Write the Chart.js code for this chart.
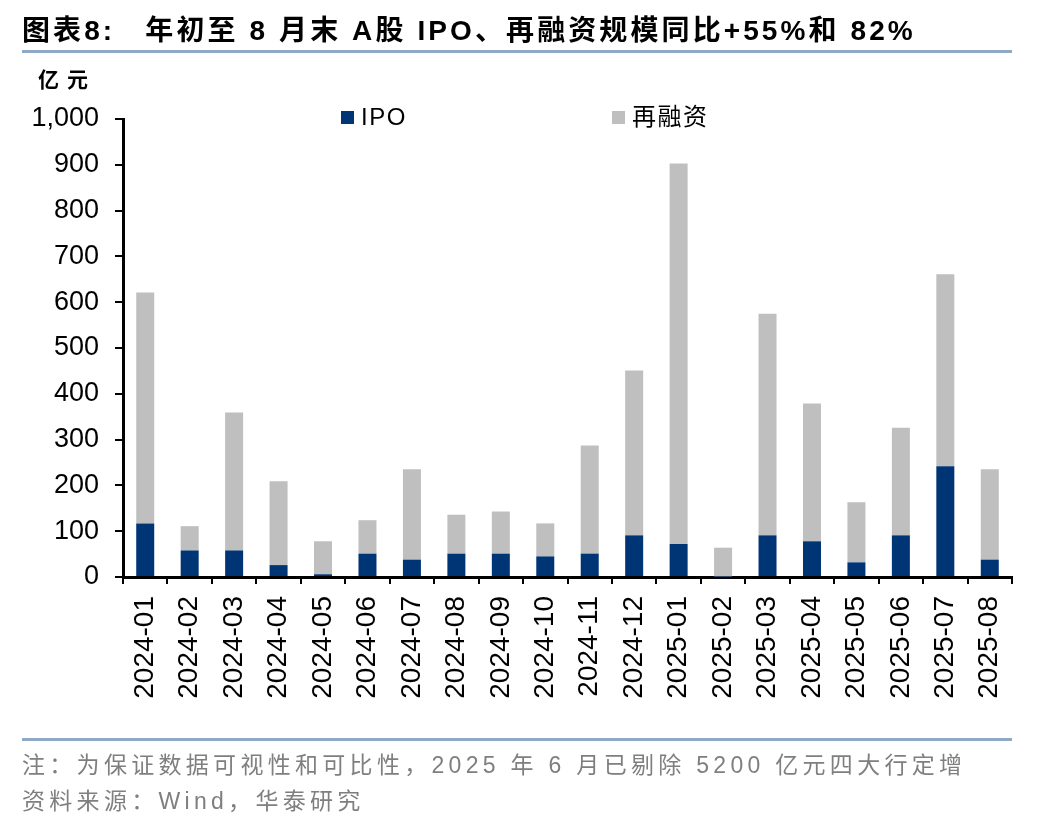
<!DOCTYPE html>
<html>
<head>
<meta charset="utf-8">
<script src="https://cdn.jsdelivr.net/npm/chart.js@4"></script>
<style>
  html, body { margin: 0; padding: 0; background: #fff; }
  #wrap { position: relative; width: 1048px; height: 828px; overflow: hidden; }
  #c { position: absolute; left: 0; top: 0; }
  .txt { position: absolute; white-space: nowrap; }
  #title { left: 22px; top: 14px; font: bold 28px "Liberation Sans", "Noto Sans CJK SC", sans-serif; letter-spacing: 3.1px; line-height: 34px; color: #000; }
  #title .gap { display: inline-block; width: 30px; }
  .rule { position: absolute; left: 22px; width: 990px; height: 3px; background: #8EA9C3; }
  #unit { left: 38px; top: 63px; font: 600 21px "Noto Sans CJK SC", sans-serif; letter-spacing: 8px; color: #000; line-height: 30px; }
  .leg { position: absolute; top: 103px; height: 28px; display: flex; align-items: center; color: #000; }
  .leg i { display: inline-block; width: 13px; height: 13px; margin-right: 7px; }
  .leg span { font: 24px "Liberation Sans", "Noto Sans CJK SC", sans-serif; line-height: 28px; letter-spacing: 1.5px; }
  .note { left: 22px; font: 23px "Liberation Sans", "Noto Sans CJK SC", sans-serif; color: #7F7F7F; letter-spacing: 4.3px; line-height: 30px; }
</style>
</head>
<body>
<div id="wrap">
  <canvas id="c" width="1048" height="828"></canvas>
  <div id="title" class="txt">图表8:<span class="gap"></span>年初至 8 月末 A股 IPO、再融资规模同比+55%和 82%</div>
  <div class="rule" style="top:50px"></div>
  <div id="unit" class="txt">亿元</div>
  <div id="legend"></div>
  <div class="rule" style="top:738px"></div>
  <div class="txt note" style="top:750px">注：为保证数据可视性和可比性，2025 年 6 月已剔除 5200 亿元四大行定增</div>
  <div class="txt note" style="top:786px">资料来源：Wind，华泰研究</div>
</div>
<script>
const categories = ["2024-01","2024-02","2024-03","2024-04","2024-05","2024-06","2024-07","2024-08","2024-09","2024-10","2024-11","2024-12","2025-01","2025-02","2025-03","2025-04","2025-05","2025-06","2025-07","2025-08"];
const ipoValues = [117, 58, 58, 26, 6, 51, 38, 51, 51, 45, 51, 91, 72, 1, 91, 78, 32, 91, 242, 38];
const refinanceValues = [504, 53, 301, 183, 72, 73, 197, 85, 92, 72, 236, 360, 831, 63, 484, 301, 131, 235, 419, 197];
const seriesNames = ["IPO", "再融资"];
const seriesColors = ["#003575", "#BFBFBF"];
const yTicks = { min: 0, max: 1000, step: 100 };

// HTML legend built from the series
const legend = document.getElementById('legend');
const legendX = [341, 612];
seriesNames.forEach((n, i) => {
  const d = document.createElement('div');
  d.className = 'leg';
  d.style.left = legendX[i] + 'px';
  d.innerHTML = '<i style="background:' + seriesColors[i] + '"></i><span>' + n + '</span>';
  legend.appendChild(d);
});

const PLOT_LEFT = 123, PLOT_RIGHT = 1012, PLOT_TOP = 119, PLOT_BOTTOM = 577;
const tickFont = { family: '"Liberation Sans", Arial, sans-serif', size: 27 };

new Chart(document.getElementById('c'), {
  type: 'bar',
  data: {
    labels: categories,
    datasets: [
      { label: seriesNames[0], data: ipoValues, backgroundColor: seriesColors[0], borderWidth: 0, categoryPercentage: 1, barPercentage: 0.405 },
      { label: seriesNames[1], data: refinanceValues, backgroundColor: seriesColors[1], borderWidth: 0, categoryPercentage: 1, barPercentage: 0.405 }
    ]
  },
  options: {
    responsive: false,
    devicePixelRatio: 1,
    animation: false,
    layout: { padding: { left: 0, right: 1048 - PLOT_RIGHT, top: PLOT_TOP, bottom: 0 } },
    plugins: { legend: { display: false }, tooltip: { enabled: false }, title: { display: false } },
    scales: {
      x: {
        stacked: true,
        grid: { display: true, drawOnChartArea: false, offset: true, tickLength: 7, color: '#000', lineWidth: 2 },
        border: { display: true, color: '#000', width: 3 },
        ticks: { minRotation: 90, maxRotation: 90, autoSkip: false, padding: 12, color: '#000', font: { family: tickFont.family, size: 28 } },
        afterFit: (s) => { s.height = 828 - PLOT_BOTTOM; }
      },
      y: {
        stacked: true,
        min: yTicks.min, max: yTicks.max,
        grid: { display: true, drawOnChartArea: false, tickLength: 8, color: '#000', lineWidth: 2 },
        border: { display: true, color: '#000', width: 3 },
        ticks: { stepSize: yTicks.step, padding: 16, color: '#000', font: tickFont },
        afterFit: (s) => { s.width = PLOT_LEFT; }
      }
    }
  }
});
</script>
</body>
</html>
